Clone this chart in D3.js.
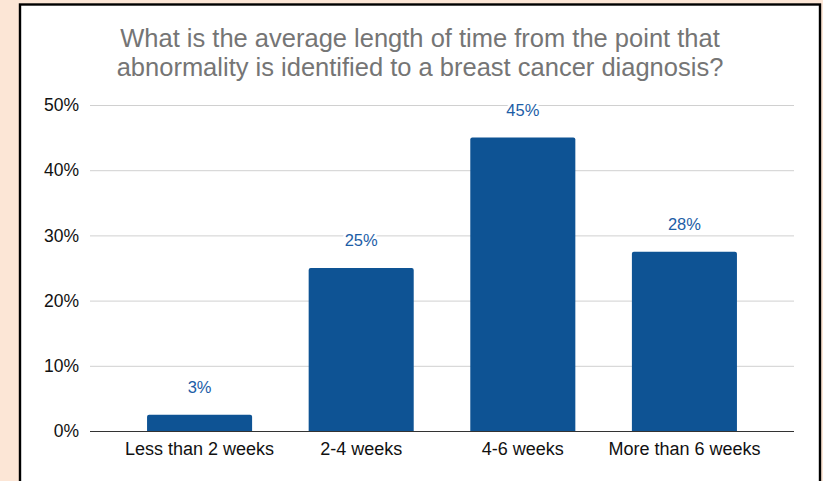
<!DOCTYPE html>
<html>
<head>
<meta charset="utf-8">
<script src="https://cdn.jsdelivr.net/npm/d3@7"></script>
<style>
  html, body { margin: 0; padding: 0; background: #fce6d6; }
  svg { display: block; }
</style>
</head>
<body>
<svg id="chart" width="823" height="481"></svg>
<script>
// Survey results: average time from identified abnormality to diagnosis
const categories = ["Less than 2 weeks", "2-4 weeks", "4-6 weeks", "More than 6 weeks"];
const shares = [0.025, 0.25, 0.45, 0.275];
const yTicks = [0, 0.1, 0.2, 0.3, 0.4, 0.5];
const titleLines = [
  "What is the average length of time from the point that",
  "abnormality is identified to a breast cancer diagnosis?"
];

const svg = d3.select("#chart");
const H = 481;
const font = "Liberation Sans, Arial, Helvetica, sans-serif";

// framed white panel
svg.append("rect")
  .attr("x", 20).attr("y", 4.5)
  .attr("width", 800).attr("height", H)
  .attr("fill", "#fff")
  .attr("stroke", "#000")
  .attr("stroke-width", 2.4);

const plot = { left: 90, right: 794, top: 105, bottom: 431 };

const x = d3.scaleBand()
  .domain(categories)
  .range([plot.left, plot.right])
  .paddingInner(0.35)
  .paddingOuter(0.353);

const y = d3.scaleLinear()
  .domain([0, 0.5])
  .range([plot.bottom, plot.top]);

const pct = d3.format(".0%");

// title, two lines
svg.append("g")
  .selectAll("text")
  .data(titleLines)
  .join("text")
  .attr("x", 420)
  .attr("y", (d, i) => 47 + i * 28.5)
  .attr("font-family", font)
  .attr("font-size", 25.5)
  .attr("fill", "#757575")
  .attr("text-anchor", "middle")
  .text(d => d);

// gridlines + y tick labels
const yAxis = d3.axisLeft(y)
  .tickValues(yTicks)
  .tickFormat(pct)
  .tickSize(-(plot.right - plot.left))
  .tickPadding(11);

const gy = svg.append("g")
  .attr("transform", `translate(${plot.left},0)`)
  .call(yAxis);
gy.select(".domain").remove();
gy.selectAll(".tick line")
  .attr("stroke", d => d === 0 ? "#333" : "#d0d0d0")
  .attr("stroke-width", 1);
gy.selectAll(".tick text")
  .attr("font-family", font)
  .attr("font-size", 17.5)
  .attr("fill", "#111")
  .attr("dy", "0.33em");

// x axis labels
const xAxis = d3.axisBottom(x).tickSize(0).tickPadding(11.5);
const gx = svg.append("g")
  .attr("transform", `translate(0,${plot.bottom})`)
  .call(xAxis);
gx.select(".domain").remove();
gx.selectAll(".tick text")
  .attr("font-family", font)
  .attr("font-size", 18)
  .attr("fill", "#111");

// bars with slightly rounded tops
const r = 2;
function barPath(d, i) {
  const x0 = x(categories[i]), w = x.bandwidth();
  const yt = y(d), yb = y(0);
  return `M${x0},${yb}V${yt + r}Q${x0},${yt} ${x0 + r},${yt}H${x0 + w - r}Q${x0 + w},${yt} ${x0 + w},${yt + r}V${yb}Z`;
}
svg.append("g")
  .selectAll("path")
  .data(shares)
  .join("path")
  .attr("d", barPath)
  .attr("fill", "#0e5394");

// value labels
svg.append("g")
  .selectAll("text")
  .data(shares)
  .join("text")
  .attr("x", (d, i) => x(categories[i]) + x.bandwidth() / 2)
  .attr("y", d => y(d) - 22)
  .attr("text-anchor", "middle")
  .attr("font-family", font)
  .attr("font-size", 16.5)
  .attr("fill", "#1c5da6")
  .attr("stroke", "#fff")
  .attr("stroke-width", 5)
  .attr("paint-order", "stroke")
  .text(d => pct(d));
</script>
</body>
</html>
